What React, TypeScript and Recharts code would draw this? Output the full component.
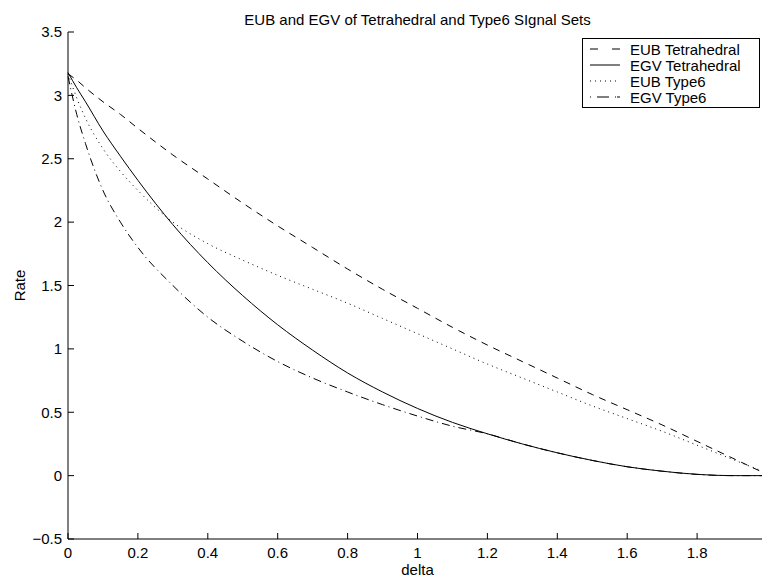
import { LineChart, Line, XAxis, YAxis, Legend, Customized } from 'recharts';

const deltas = [0, 0.025, 0.05, 0.1, 0.15, 0.2, 0.3, 0.4, 0.5, 0.6, 0.7, 0.8, 0.9, 1.0, 1.1, 1.2, 1.3, 1.4, 1.5, 1.6, 1.7, 1.8, 1.9, 2.0];
const eubTetra = [3.17, 3.12, 3.06, 2.95, 2.85, 2.74, 2.53, 2.34, 2.15, 1.97, 1.8, 1.63, 1.47, 1.32, 1.17, 1.03, 0.9, 0.77, 0.64, 0.52, 0.4, 0.27, 0.14, 0.01];
const egvTetra = [3.18, 3.06, 2.95, 2.72, 2.52, 2.33, 1.98, 1.68, 1.42, 1.19, 0.99, 0.81, 0.66, 0.53, 0.42, 0.33, 0.25, 0.18, 0.12, 0.07, 0.035, 0.01, 0, 0];
const eubType6 = [3.17, 2.98, 2.82, 2.58, 2.4, 2.25, 2.0, 1.83, 1.7, 1.58, 1.47, 1.36, 1.24, 1.12, 1.0, 0.88, 0.77, 0.66, 0.55, 0.45, 0.35, 0.24, 0.13, 0.02];
const egvType6 = [3.15, 2.85, 2.62, 2.25, 2.0, 1.8, 1.5, 1.25, 1.06, 0.9, 0.77, 0.66, 0.56, 0.47, 0.39, 0.33, 0.25, 0.18, 0.12, 0.07, 0.035, 0.01, 0, 0];

const xTicks = [0, 0.2, 0.4, 0.6, 0.8, 1, 1.2, 1.4, 1.6, 1.8];
const yTicks = [-0.5, 0, 0.5, 1, 1.5, 2, 2.5, 3, 3.5];

const data = deltas.map((d, i) => ({
  delta: d,
  eubTetra: eubTetra[i],
  egvTetra: egvTetra[i],
  eubType6: eubType6[i],
  egvType6: egvType6[i],
}));

const FONT = '"Liberation Sans", Arial, Helvetica, sans-serif';
const tickStyle = { fontSize: 15, fill: '#000', fontFamily: FONT };

const seriesOrder = ['eubTetra', 'egvTetra', 'eubType6', 'egvType6'];
// legend sample patterns (legend swatch is 30px long)
const legendDash: Record<string, string | undefined> = {
  eubTetra: '8 14 8',
  egvTetra: undefined,
  eubType6: '1 4',
  egvType6: '1 6 12 6 1',
};

function LegendBox(props: any) {
  const items = [...(props.payload || [])].sort(
    (a: any, b: any) => seriesOrder.indexOf(a.dataKey) - seriesOrder.indexOf(b.dataKey)
  );
  return (
    <svg width={178} height={70} style={{ display: 'block' }}>
      <rect x={0.5} y={0.5} width={177} height={69} fill="#fff" stroke="#000" />
      {items.map((it: any, i: number) => {
        const cy = 11 + i * 16;
        return (
          <g key={it.value}>
            <line x1={8} x2={38} y1={cy} y2={cy} stroke="#000" strokeDasharray={legendDash[it.dataKey]} />
            <text x={48} y={cy} dominantBaseline="central" fontSize={15} fontFamily={FONT} fill="#000">
              {it.value}
            </text>
          </g>
        );
      })}
    </svg>
  );
}

function Labels() {
  return (
    <g fontFamily={FONT} fontSize={15} fill="#000">
      <text x={417.5} y={25} textAnchor="middle">EUB and EGV of Tetrahedral and Type6 SIgnal Sets</text>
      <text x={19} y={285.5} textAnchor="middle" dominantBaseline="central" transform="rotate(-90, 19, 285.5)">Rate</text>
    </g>
  );
}

const fmt = (v: number) => `${+v.toFixed(1)}`.replace('-', '\u2212');

export default function App() {
  return (
    <div style={{ position: 'fixed', left: 0, top: 0, width: 762, height: 578, overflow: 'hidden', background: '#fff' }}>
      <LineChart width={767} height={578} data={data} margin={{ top: 32, right: 0, bottom: 0, left: 18 }}>
        <XAxis
          dataKey="delta"
          type="number"
          domain={[0, 2]}
          ticks={xTicks}
          tickFormatter={fmt}
          tickSize={-6}
          tickMargin={14}
          height={39}
          stroke="#000"
          tick={tickStyle}
          label={{ value: 'delta', position: 'insideBottom', offset: 3, fontSize: 15, fill: '#000', fontFamily: FONT }}
        />
        <XAxis
          xAxisId="top"
          orientation="top"
          type="number"
          domain={[0, 2]}
          ticks={xTicks}
          tickSize={-6}
          height={0}
          stroke="#000"
          tick={() => <g />}
        />
        <YAxis
          type="number"
          domain={[-0.5, 3.5]}
          ticks={yTicks}
          tickFormatter={fmt}
          tickSize={-6}
          tickMargin={12}
          width={50}
          stroke="#000"
          tick={tickStyle}
        />
        <Legend
          layout="vertical"
          align="center"
          verticalAlign="middle"
          content={<LegendBox />}
          wrapperStyle={{ position: 'absolute', left: 582, top: 38, width: 178, height: 70 }}
        />
        <Line type="monotone" dataKey="eubTetra" name="EUB Tetrahedral" stroke="#000" strokeWidth={1} strokeDasharray="7 6" dot={false} isAnimationActive={false} />
        <Line type="monotone" dataKey="egvTetra" name="EGV Tetrahedral" stroke="#000" strokeWidth={1} dot={false} isAnimationActive={false} />
        <Line type="monotone" dataKey="eubType6" name="EUB Type6" stroke="#000" strokeWidth={1} strokeDasharray="1 4" dot={false} isAnimationActive={false} />
        <Line type="monotone" dataKey="egvType6" name="EGV Type6" stroke="#000" strokeWidth={1} strokeDasharray="8 4 1 4" dot={false} isAnimationActive={false} />
        <Customized component={Labels} />
      </LineChart>
    </div>
  );
}
